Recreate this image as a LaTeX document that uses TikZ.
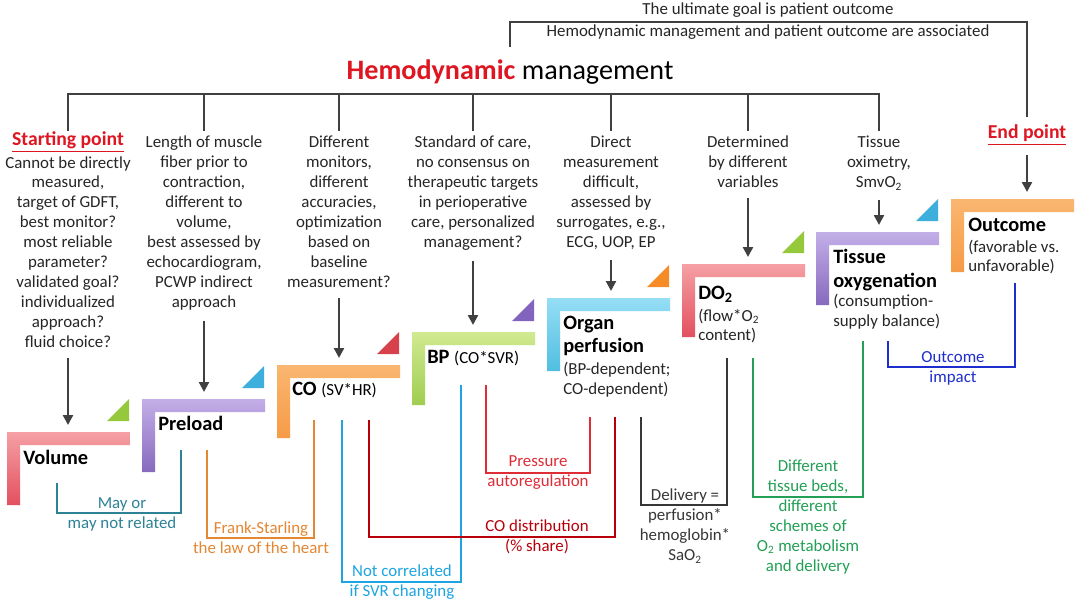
\documentclass[tikz,border=0pt]{standalone}
\usepackage{fontspec}
\setmainfont{Carlito}
\usetikzlibrary{arrows.meta}
\definecolor{hmred}{RGB}{222,22,34}
\definecolor{darkline}{RGB}{64,64,64}
\definecolor{redtop}{RGB}{245,160,165}
\definecolor{redbot}{RGB}{226,80,95}
\definecolor{purtop}{RGB}{195,175,232}
\definecolor{purbot}{RGB}{135,105,190}
\definecolor{orgtop}{RGB}{250,182,112}
\definecolor{orgbot}{RGB}{246,155,70}
\definecolor{grntop}{RGB}{208,234,145}
\definecolor{grnbot}{RGB}{160,205,80}
\definecolor{blutop}{RGB}{150,222,245}
\definecolor{blubot}{RGB}{80,190,225}
\definecolor{tgreen}{RGB}{150,200,60}
\definecolor{tblue}{RGB}{60,175,220}
\definecolor{tred}{RGB}{215,65,75}
\definecolor{tpurple}{RGB}{130,100,190}
\definecolor{torange}{RGB}{245,140,40}
\definecolor{cteal}{RGB}{45,130,150}
\definecolor{corange}{RGB}{228,135,50}
\definecolor{csky}{RGB}{30,165,225}
\definecolor{cdred}{RGB}{185,0,10}
\definecolor{cred}{RGB}{222,45,55}
\definecolor{cgray}{RGB}{55,55,55}
\definecolor{cgreen}{RGB}{35,160,85}
\definecolor{cblue}{RGB}{30,45,205}

\begin{document}
\begin{tikzpicture}[
    x=0.025cm, y=-0.025cm,
    txt/.style={font=\fontsize{12}{14.2}\selectfont, align=center, inner sep=0, text=black!85},
    col/.style={txt, anchor=north},
    head/.style={font=\fontsize{14}{16}\selectfont\bfseries, text=hmred, inner sep=0},
    lbl/.style={font=\fontsize{14.5}{16.5}\selectfont\bfseries, align=left, anchor=west, inner sep=0},
    sub/.style={txt, align=left, anchor=west},
    note/.style={txt, text=#1},
    bar/.style 2 args={top color=#1, bottom color=#2},
    bus/.style={draw=darkline, line width=1.8pt},
    arr/.style={draw=darkline, line width=1.7pt, -{Triangle[length=7pt,width=7pt]}, shorten <=7pt, shorten >=5pt},
    brk/.style={line width=1.5pt}
]
\fill[white] (0,0) rectangle (1080,604);
\useasboundingbox (0,0) rectangle (1080,604);

% top of the tree
\node[txt] (goal) at (768,10) {The ultimate goal is patient outcome};
\node[txt] (assoc) at (768,32) {Hemodynamic management and patient outcome are associated};
\node[font=\fontsize{20}{24}\selectfont, inner sep=0] (title) at (510,72) {\textcolor{hmred}{\textbf{Hemodynamic}} management};
\draw[bus] (510,47) |- (1027,22) -- (1027,117);
\draw[bus] (68,131) |- (879,94) -- (879,131);
\draw[bus] (204,94) -- (204,131) (339,94) -- (339,131) (473,94) -- (473,131)
    (611,94) -- (611,131) (748,94) -- (748,131);

% column texts
\node[head] (sp) at (68,142) {\underline{Starting point}};
\node[col] (t1) at (68,156) {Cannot be directly\\measured,\\target of GDFT,\\best monitor?\\most reliable\\parameter?\\validated goal?\\individualized\\approach?\\fluid choice?};
\node[col] (t2) at (204,136) {Length of muscle\\fiber prior to\\contraction,\\different to\\volume,\\best assessed by\\echocardiogram,\\PCWP indirect\\approach};
\node[col] (t3) at (339,136) {Different\\monitors,\\different\\accuracies,\\optimization\\based on\\baseline\\measurement?};
\node[col] (t4) at (473,136) {Standard of care,\\no consensus on\\therapeutic targets\\in perioperative\\care, personalized\\management?};
\node[col] (t5) at (611,136) {Direct\\measurement\\difficult,\\assessed by\\surrogates, e.g.,\\ECG, UOP, EP};
\node[col] (t6) at (748,136) {Determined\\by different\\variables};
\node[col] (t7) at (879,136) {Tissue\\oximetry,\\SmvO\textsubscript{2}};
\node[head] (ep) at (1027,135) {\underline{End point}};

% stair steps
\coordinate (b1) at (7,432);
\coordinate (b2) at (142,399);
\coordinate (b3) at (277,365);
\coordinate (b4) at (412,332);
\coordinate (b5) at (547,298);
\coordinate (b6) at (682,264);
\coordinate (b7) at (816,232);
\coordinate (b8) at (951,199);
\shade[bar={redtop}{redbot}] (b1) -- ++(123,0) -- ++(0,13) -- ++(-110,0) -- ++(0,60) -- ++(-13,0) -- cycle;
\shade[bar={purtop}{purbot}] (b2) -- ++(123,0) -- ++(0,13) -- ++(-110,0) -- ++(0,60) -- ++(-13,0) -- cycle;
\shade[bar={orgtop}{orgbot}] (b3) -- ++(123,0) -- ++(0,13) -- ++(-110,0) -- ++(0,60) -- ++(-13,0) -- cycle;
\shade[bar={grntop}{grnbot}] (b4) -- ++(123,0) -- ++(0,13) -- ++(-110,0) -- ++(0,60) -- ++(-13,0) -- cycle;
\shade[bar={blutop}{blubot}] (b5) -- ++(123,0) -- ++(0,13) -- ++(-110,0) -- ++(0,60) -- ++(-13,0) -- cycle;
\shade[bar={redtop}{redbot}] (b6) -- ++(123,0) -- ++(0,13) -- ++(-110,0) -- ++(0,60) -- ++(-13,0) -- cycle;
\shade[bar={purtop}{purbot}] (b7) -- ++(123,0) -- ++(0,13) -- ++(-110,0) -- ++(0,60) -- ++(-13,0) -- cycle;
\shade[bar={orgtop}{orgbot}] (b8) -- ++(123,0) -- ++(0,13) -- ++(-110,0) -- ++(0,60) -- ++(-13,0) -- cycle;
\fill[tgreen] (b1) ++(100,-11) -- ++(22,0) -- ++(0,-22) -- cycle;
\fill[tblue] (b2) ++(100,-11) -- ++(22,0) -- ++(0,-22) -- cycle;
\fill[tred] (b3) ++(100,-11) -- ++(22,0) -- ++(0,-22) -- cycle;
\fill[tpurple] (b4) ++(100,-11) -- ++(22,0) -- ++(0,-22) -- cycle;
\fill[torange] (b5) ++(100,-11) -- ++(22,0) -- ++(0,-22) -- cycle;
\fill[tgreen] (b6) ++(100,-11) -- ++(22,0) -- ++(0,-22) -- cycle;
\fill[tblue] (b7) ++(100,-11) -- ++(22,0) -- ++(0,-22) -- cycle;

% step labels
\node[lbl] (vol) at (23,457) {Volume};
\node[lbl] (pre) at (158,423) {Preload};
\node[lbl] (co) at (292,390) {CO {\fontsize{12}{14.2}\selectfont\mdseries (SV*HR)}};
\node[lbl] (bp) at (427,358) {BP {\fontsize{12}{14.2}\selectfont\mdseries (CO*SVR)}};
\node[lbl] (org) at (563,336) {Organ\\perfusion};
\node[sub] (orgs) at (563,380) {(BP-dependent;\\CO-dependent)};
\node[lbl] (do) at (698,294) {DO\textsubscript{2}};
\node[sub] (dos) at (698,326) {(flow*O\textsubscript{2}\\content)};
\node[lbl] (tis) at (833,270) {Tissue\\oxygenation};
\node[sub] (tiss) at (833,312) {(consumption-\\supply balance)};
\node[lbl] (out) at (968,225) {Outcome};
\node[sub] (outs) at (968,257) {(favorable vs.\\unfavorable)};

% arrows down to the steps
\draw[arr] (t1.south) -- (t1.south |- b1);
\draw[arr] (t2.south) -- (t2.south |- b2);
\draw[arr] (t3.south) -- (t3.south |- b3);
\draw[arr] (t4.south) -- (t4.south |- b4);
\draw[arr] (t5.south) -- (t5.south |- b5);
\draw[arr] (t6.south) -- (t6.south |- b6);
\draw[arr] (t7.south) -- (t7.south |- b7);
\draw[arr] (ep.south) -- (ep.south |- b8);

% links between steps
\draw[brk, cteal] (57,483) |- (181,513) -- (181,450);
\draw[brk, corange] (207,450) |- (314,538) -- (314,420);
\draw[brk, csky] (342,420) |- (461,582) -- (461,385);
\draw[brk, cdred] (369,420) |- (615,537) -- (615,417);
\draw[brk, cred] (486,385) |- (590,473) -- (590,417);
\draw[brk, cgray] (641,417) |- (727,505) -- (727,358);
\draw[brk, cgreen] (753,358) |- (863,497) -- (863,341);
\draw[brk, cblue] (888,341) |- (1015,367) -- (1015,283);
\node[note=cteal] (n1) at (122,514) {May or\\may not related};
\node[note=corange] (n2) at (261,538) {Frank-Starling\\the law of the heart};
\node[note=csky] (n3) at (402,582) {Not correlated\\if SVR changing};
\node[note=cdred] (n4) at (537,537) {CO distribution\\(\% share)};
\node[note=cred] (n5) at (538,473) {Pressure\\autoregulation};
\node[note=cgray] (n6) at (685,526) {Delivery =\\perfusion*\\hemoglobin*\\SaO\textsubscript{2}};
\node[note=cgreen] (n7) at (808,517) {Different\\tissue beds,\\different\\schemes of\\O\textsubscript{2} metabolism\\and delivery};
\node[note=cblue] (n8) at (953,368) {Outcome\\impact};
\end{tikzpicture}
\end{document}
